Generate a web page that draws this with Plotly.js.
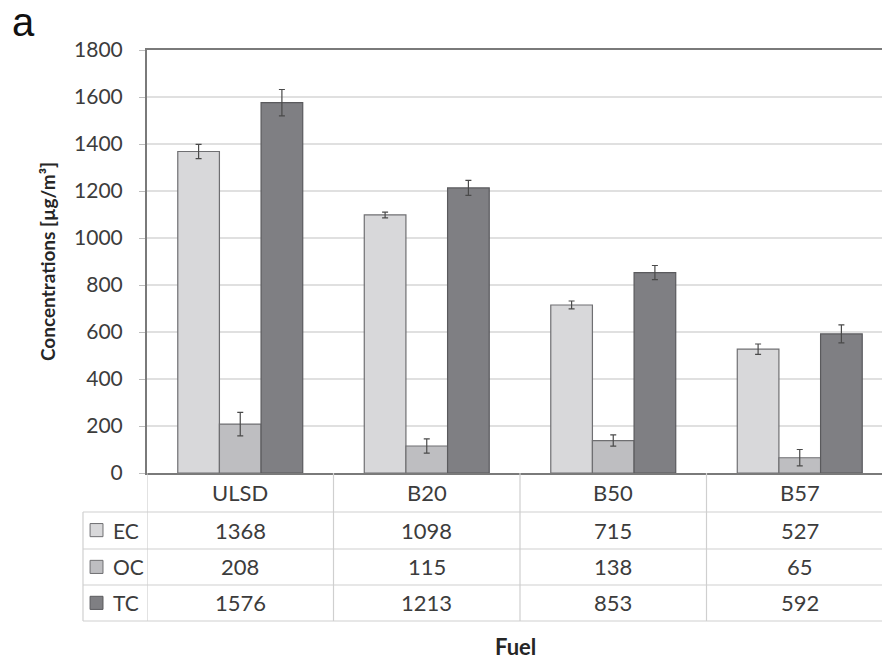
<!DOCTYPE html>
<html>
<head>
<meta charset="utf-8">
<script src="https://cdn.plot.ly/plotly-3.0.1.min.js"></script>
<style>
  html, body { margin: 0; padding: 0; background: #fff; overflow: hidden; width: 882px; height: 662px; }
  #chart { width: 900px; height: 662px; }
</style>
</head>
<body>
<div id="chart"></div>
<script>
// Carbon concentrations by fuel blend
const fuels = ['ULSD', 'B20', 'B50', 'B57'];
const ecValues = [1368, 1098, 715, 527];
const ocValues = [208, 115, 138, 65];
const tcValues = [1576, 1213, 853, 592];
const ecErrors = [30, 12, 17, 22];
const ocErrors = [50, 30, 24, 35];
const tcErrors = [56, 32, 30, 38];
const seriesNames = ['EC', 'OC', 'TC'];
const yTicks = [0, 200, 400, 600, 800, 1000, 1200, 1400, 1600, 1800];

const fills = ['#d8d8da', '#bebec1', '#7f7f83'];
const outlines = ['#6f6f72', '#6f6f72', '#5a5a5d'];
const textColor = '#3c3c3c';
const tableLine = '#cfcfcf';
const font = 'Lato, "Open Sans", sans-serif';

const values = [ecValues, ocValues, tcValues];
const errors = [ecErrors, ocErrors, tcErrors];

const traces = seriesNames.map((name, i) => ({
  type: 'bar',
  name: name,
  x: fuels,
  y: values[i],
  marker: { color: fills[i], line: { color: outlines[i], width: 1.2 } },
  error_y: { type: 'data', array: errors[i], visible: true, color: '#4a4a4a', thickness: 1.2, width: 3 },
  hoverinfo: 'x+y+name'
}));

// data table rows (paper y of row centres and borders)
const rowCenters = [-0.045, -0.135, -0.222, -0.307];
const rowBorders = [-0.0922, -0.1797, -0.2648, -0.3499];
const legendLeft = -0.0858;

const shapes = [];
const annotations = [];

// horizontal table lines
rowBorders.forEach(y => {
  shapes.push({ type: 'line', xref: 'paper', yref: 'paper', x0: legendLeft, x1: 1.0, y0: y, y1: y,
    line: { color: tableLine, width: 1.2 } });
});
// left edge of the legend column
shapes.push({ type: 'line', xref: 'paper', yref: 'paper', x0: legendLeft, x1: legendLeft,
  y0: rowBorders[0], y1: rowBorders[3], line: { color: tableLine, width: 1.2 } });
// category column separators
for (let i = 0; i < fuels.length; i++) {
  shapes.push({ type: 'line', xref: 'x', yref: 'paper', x0: i - 0.5, x1: i - 0.5,
    y0: 0, y1: rowBorders[3], line: { color: tableLine, width: 1.2 } });
}

// category header row
fuels.forEach(f => {
  annotations.push({ xref: 'x', yref: 'paper', x: f, y: rowCenters[0], text: f, showarrow: false,
    font: { family: font, size: 22, color: textColor }, xanchor: 'center', yanchor: 'middle' });
});

// series rows: legend key + values
seriesNames.forEach((name, i) => {
  const yc = rowCenters[i + 1];
  shapes.push({ type: 'rect', xref: 'paper', yref: 'paper',
    x0: -0.0763, x1: -0.0590, y0: yc - 0.0155, y1: yc + 0.0155,
    fillcolor: fills[i], line: { color: outlines[i], width: 1 } });
  annotations.push({ xref: 'paper', yref: 'paper', x: -0.0480, y: yc, text: name, showarrow: false,
    font: { family: font, size: 21, color: textColor }, xanchor: 'left', yanchor: 'middle' });
  values[i].forEach((v, j) => {
    annotations.push({ xref: 'x', yref: 'paper', x: fuels[j], y: yc, text: String(v), showarrow: false,
      font: { family: font, size: 22, color: textColor }, xanchor: 'center', yanchor: 'middle' });
  });
});

// x-axis title under the table
annotations.push({ xref: 'paper', yref: 'paper', x: 0.494, y: -0.411, text: '<b>Fuel</b>', showarrow: false,
  font: { family: font, size: 22, color: '#262626' }, xanchor: 'center', yanchor: 'middle' });

// panel letter
annotations.push({ xref: 'paper', yref: 'paper', x: -0.165, y: 1.066, text: 'a', showarrow: false,
  font: { family: 'Liberation Sans, Arial, sans-serif', size: 40, color: '#111' }, xanchor: 'center', yanchor: 'middle' });

const layout = {
  width: 900,
  height: 662,
  margin: { l: 147, r: 7, t: 50, b: 189 },
  paper_bgcolor: '#ffffff',
  plot_bgcolor: '#ffffff',
  showlegend: false,
  barmode: 'group',
  bargap: 0.33,
  bargroupgap: 0,
  font: { family: font, color: textColor },
  xaxis: {
    type: 'category',
    range: [-0.5, 3.5],
    showticklabels: false,
    ticks: '',
    showgrid: false,
    showline: true,
    linecolor: '#7a7a7a',
    linewidth: 2,
    mirror: true,
    zeroline: false,
    fixedrange: true
  },
  yaxis: {
    range: [0, 1800],
    tickvals: yTicks,
    ticktext: yTicks.map(String),
    tickfont: { family: font, size: 21, color: textColor },
    ticks: 'outside',
    ticklen: 6,
    tickcolor: '#bdbdbd',
    tickwidth: 1,
    ticklabelstandoff: 12,
    showgrid: true,
    gridcolor: '#e0e0e0',
    gridwidth: 1.2,
    showline: true,
    linecolor: '#7a7a7a',
    linewidth: 2,
    mirror: true,
    zeroline: false,
    title: { text: '<b>Concentrations [µg/m³]</b>', font: { family: font, size: 19, color: '#262626' }, standoff: 13 },
    fixedrange: true
  },
  shapes: shapes,
  annotations: annotations
};

Plotly.newPlot('chart', traces, layout, { displayModeBar: false, staticPlot: true });
</script>
</body>
</html>
